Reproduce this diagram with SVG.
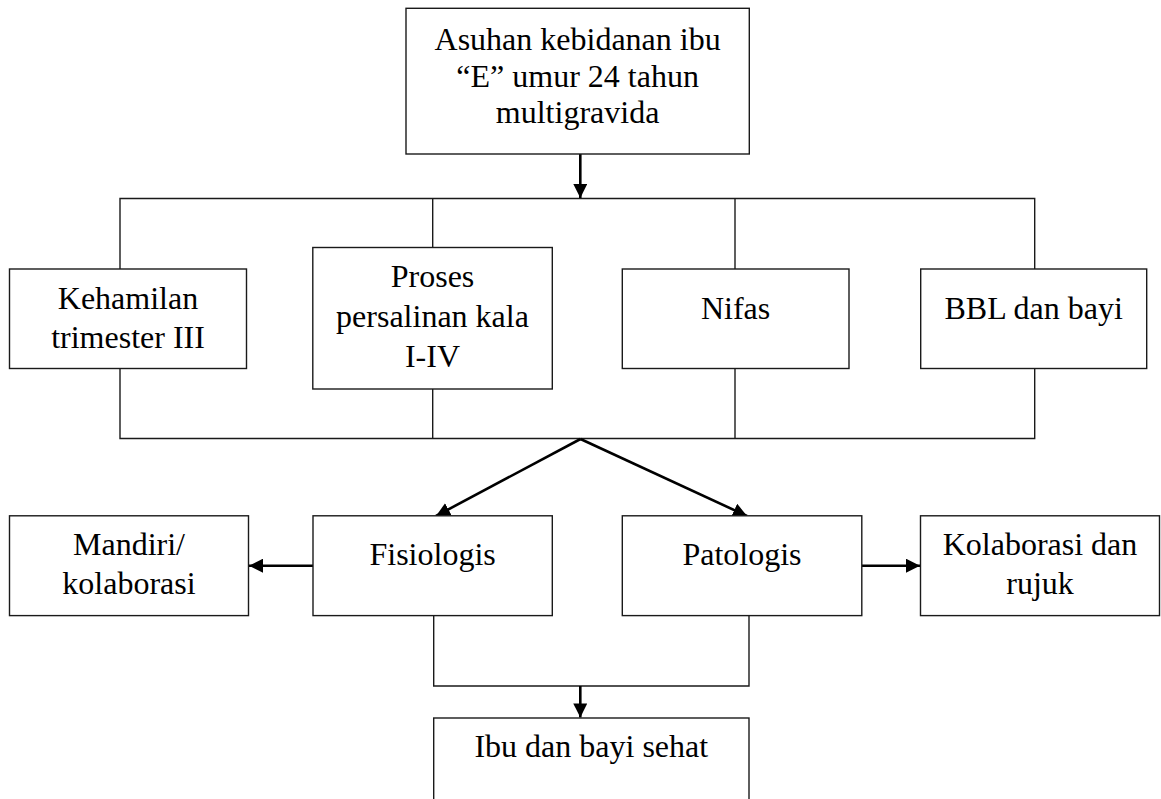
<svg xmlns="http://www.w3.org/2000/svg" width="1161" height="799" viewBox="0 0 1161 799">
<defs>
<style>
.box{fill:#fff;stroke:#1a1a1a;stroke-width:1.4}
.ln{fill:none;stroke:#1a1a1a;stroke-width:1.4}
.ar{fill:none;stroke:#000;stroke-width:2.6}
text{font-family:"Liberation Serif","Times New Roman",serif;font-size:32px;fill:#000;text-anchor:middle}
</style>
<marker id="ah" viewBox="0 0 10 10" refX="10" refY="5" markerWidth="5.4" markerHeight="5.4" markerUnits="strokeWidth" orient="auto">
<path d="M0,0 L10,5 L0,10 z" fill="#000"/>
</marker>
</defs>
<rect width="1161" height="799" fill="#fff"/>
<g id="connectors">
<polyline class="ln" points="120,269 120,198.5 1034.7,198.5 1034.7,269"/>
<line class="ln" x1="432.7" y1="198.5" x2="432.7" y2="247.5"/>
<line class="ln" x1="735" y1="198.5" x2="735" y2="269"/>
<polyline class="ln" points="120,368.5 120,438.5 1034.7,438.5 1034.7,368.5"/>
<line class="ln" x1="432.7" y1="389" x2="432.7" y2="438.5"/>
<line class="ln" x1="735" y1="368.5" x2="735" y2="438.5"/>
<polyline class="ln" points="433.7,615.5 433.7,686 749,686 749,615.5"/>
<line class="ar" x1="580.3" y1="154" x2="580.3" y2="198" marker-end="url(#ah)"/>
<line class="ar" x1="580.5" y1="439" x2="436" y2="516" marker-end="url(#ah)"/>
<line class="ar" x1="580.5" y1="439" x2="747" y2="516" marker-end="url(#ah)"/>
<line class="ar" x1="313" y1="565.7" x2="249" y2="565.7" marker-end="url(#ah)"/>
<line class="ar" x1="862" y1="565.7" x2="920" y2="565.7" marker-end="url(#ah)"/>
<line class="ar" x1="580.3" y1="686" x2="580.3" y2="717.5" marker-end="url(#ah)"/>
</g>
<g id="n-asuhan">
<rect class="box" x="406" y="8.3" width="343.3" height="145.7"/>
<text x="577.6" y="50">Asuhan kebidanan ibu</text>
<text x="577.6" y="86.5">“E” umur 24 tahun</text>
<text x="577.6" y="123">multigravida</text>
</g>
<g id="n-kehamilan">
<rect class="box" x="9.5" y="269" width="237" height="99.5"/>
<text x="128" y="309">Kehamilan</text>
<text x="128" y="348.3">trimester III</text>
</g>
<g id="n-proses">
<rect class="box" x="312.8" y="247.5" width="239.5" height="141.5"/>
<text x="432.5" y="286.7">Proses</text>
<text x="432.5" y="326.7">persalinan kala</text>
<text x="432.5" y="367">I-IV</text>
</g>
<g id="n-nifas">
<rect class="box" x="622.3" y="269" width="226.7" height="99.5"/>
<text x="735.6" y="319">Nifas</text>
</g>
<g id="n-bbl">
<rect class="box" x="920.7" y="269" width="226" height="99.5"/>
<text x="1033.7" y="319">BBL dan bayi</text>
</g>
<g id="n-mandiri">
<rect class="box" x="9.5" y="515.8" width="239" height="99.8"/>
<text x="129" y="555">Mandiri/</text>
<text x="129" y="594.3">kolaborasi</text>
</g>
<g id="n-fisiologis">
<rect class="box" x="313" y="515.8" width="239.3" height="99.8"/>
<text x="432.6" y="565">Fisiologis</text>
</g>
<g id="n-patologis">
<rect class="box" x="622.3" y="515.8" width="239.5" height="99.8"/>
<text x="742" y="565">Patologis</text>
</g>
<g id="n-kolaborasi">
<rect class="box" x="920.5" y="515.8" width="239" height="99.8"/>
<text x="1040" y="555">Kolaborasi dan</text>
<text x="1040" y="594.3">rujuk</text>
</g>
<g id="n-ibu">
<rect class="box" x="433.7" y="718" width="315.3" height="100"/>
<text x="591.3" y="756.7">Ibu dan bayi sehat</text>
</g>
</svg>
